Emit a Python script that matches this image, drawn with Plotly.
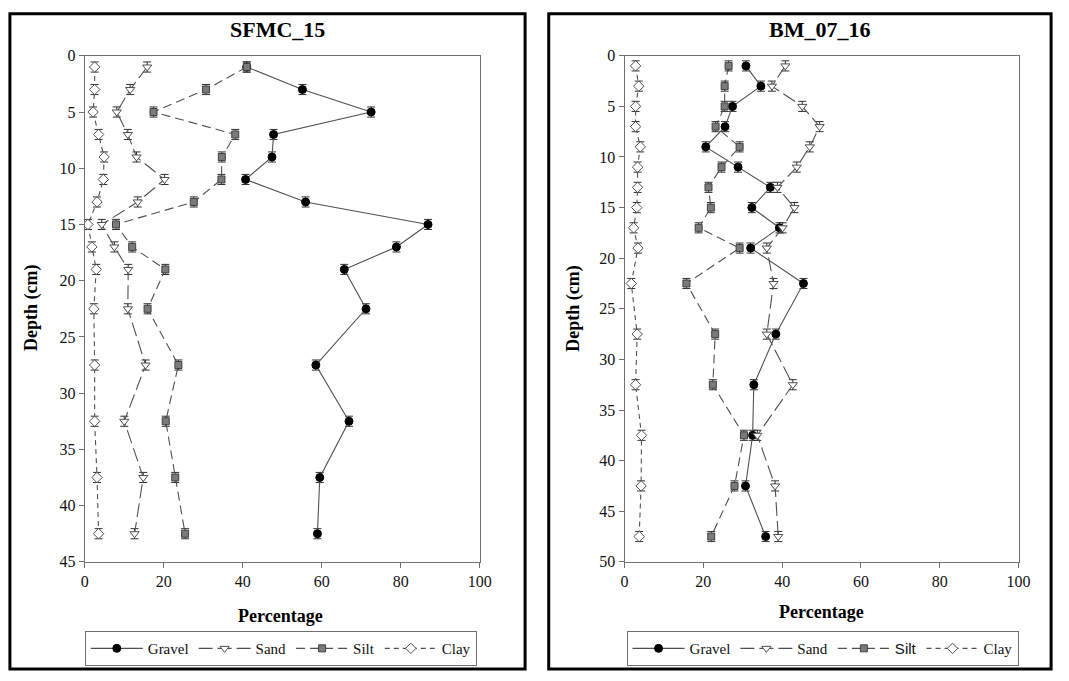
import plotly.graph_objects as go

# ---------------- Data ----------------
depth_sfmc = [1, 3, 5, 7, 9, 11, 13, 15, 17, 19, 22.5, 27.5, 32.5, 37.5, 42.5]
gravel_sfmc = [41.0, 55.1, 72.5, 47.8, 47.4, 40.7, 55.9, 86.9, 78.9, 65.7, 71.2, 58.5, 66.9, 59.5, 58.9]
sand_sfmc = [15.8, 11.5, 8.1, 10.9, 13.1, 20.2, 13.4, 4.3, 7.5, 11.0, 10.9, 15.4, 10.0, 14.8, 12.6]
silt_sfmc = [41.0, 30.7, 17.4, 38.1, 34.7, 34.6, 27.6, 7.9, 12.0, 20.4, 15.9, 23.7, 20.5, 22.9, 25.4]
clay_sfmc = [2.5, 2.5, 2.1, 3.5, 4.9, 4.7, 3.1, 0.8, 1.8, 2.9, 2.3, 2.5, 2.5, 3.1, 3.5]

depth_bm = [1, 3, 5, 7, 9, 11, 13, 15, 17, 19, 22.5, 27.5, 32.5, 37.5, 42.5, 47.5]
gravel_bm = [30.8, 34.6, 27.4, 25.5, 20.6, 28.8, 37.0, 32.3, 39.3, 32.0, 45.4, 38.4, 32.8, 32.5, 30.7, 35.8]
sand_bm = [40.8, 37.4, 45.1, 49.5, 47.0, 43.7, 38.8, 43.1, 40.1, 36.1, 37.8, 36.1, 42.7, 33.7, 38.2, 39.0]
silt_bm = [26.4, 25.4, 25.4, 23.1, 29.2, 24.6, 21.3, 21.9, 18.8, 29.2, 15.7, 23.0, 22.4, 30.3, 27.9, 22.0]
clay_bm = [2.8, 3.6, 2.8, 2.8, 4.0, 3.3, 3.3, 3.1, 2.3, 3.4, 1.7, 3.2, 2.8, 4.3, 4.2, 3.7]

err_sfmc = [0.45] * len(depth_sfmc)
err_bm = [0.5] * len(depth_bm)

series_names = ["Gravel", "Sand", "Silt", "Clay"]
legend_labels_bm = ["Gravel", "Sand", "<span style='font-family:Liberation Sans'>Silt</span>", "Clay"]

FONT = "Liberation Serif"
LINE_C = "#505050"

styles = {
    "Gravel": dict(symbol="circle", size=8, fill="#000000", edge="#000000", dash="solid"),
    "Sand": dict(symbol="triangle-down", size=8, fill="#ffffff", edge="#505050", dash="14px,5px"),
    "Silt": dict(symbol="square", size=7, fill="#7a7a7a", edge="#404040", dash="9px,5px"),
    "Clay": dict(symbol="diamond", size=8, fill="#ffffff", edge="#505050", dash="5px,4px"),
}

fig = go.Figure()

panels = [
    ("x", "y", "legend", depth_sfmc, [gravel_sfmc, sand_sfmc, silt_sfmc, clay_sfmc], err_sfmc, series_names),
    ("x2", "y2", "legend2", depth_bm, [gravel_bm, sand_bm, silt_bm, clay_bm], err_bm, legend_labels_bm),
]

for xa, ya, lg, depth, vals, err, labels in panels:
    for name, label, v in zip(series_names, labels, vals):
        s = styles[name]
        fig.add_trace(go.Scatter(
            x=v, y=depth, xaxis=xa, yaxis=ya, legend=lg, name=label,
            mode="lines+markers",
            line=dict(color=LINE_C, width=1.1, dash=s["dash"]),
            marker=dict(symbol=s["symbol"], size=s["size"], color=s["fill"],
                        line=dict(color=s["edge"], width=1)),
            error_y=dict(type="data", array=err, visible=True, color="#303030",
                         thickness=1, width=4),
        ))

W, H = 1069, 681


def px_x(p):
    return p / W


def px_y(p):
    return 1 - p / H


axis_common = dict(
    showline=True, linecolor="#707070", linewidth=1, mirror=True,
    ticks="outside", ticklen=5, tickcolor="#707070", tickwidth=1,
    showgrid=False, zeroline=False,
    tickfont=dict(family=FONT, size=16, color="#111111"),
)

legend_common = dict(orientation="h", xanchor="center", yanchor="middle",
                     bordercolor="#707070", borderwidth=1, itemwidth=52,
                     font=dict(family=FONT, size=15, color="#111111"), bgcolor="white")

fig.update_layout(
    width=W, height=H,
    margin=dict(l=0, r=0, t=0, b=0),
    font=dict(family=FONT, size=15, color="#111111"),
    paper_bgcolor="white", plot_bgcolor="white",
    showlegend=True,
    xaxis=dict(domain=[px_x(82), px_x(483)], range=[0, 100], dtick=20, anchor="y", **axis_common),
    yaxis=dict(domain=[px_y(568), px_y(49)], range=[45, 0], dtick=5, anchor="x", **axis_common),
    xaxis2=dict(domain=[px_x(630), px_x(1030)], range=[0, 100], dtick=20, anchor="y2", **axis_common),
    yaxis2=dict(domain=[px_y(568), px_y(49)], range=[50, 0], dtick=5, anchor="x2", **axis_common),
    legend=dict(x=px_x(281), y=px_y(657), **legend_common),
    legend2=dict(x=px_x(831), y=px_y(657), **legend_common),
)

# Panel frames
for x0, x1 in [(6, 529), (553, 1063)]:
    fig.add_shape(type="rect", xref="paper", yref="paper",
                  x0=px_x(x0), x1=px_x(x1), y0=px_y(678), y1=px_y(6),
                  line=dict(color="black", width=3), fillcolor="rgba(0,0,0,0)", layer="above")

# Titles and axis labels
ann = []
for title, cx, ylab_x in [("SFMC_15", 278, 28), ("BM_07_16", 828, 578)]:
    ann.append(dict(text="<b>%s</b>" % title, x=px_x(cx), y=px_y(22), xref="paper", yref="paper",
                    showarrow=False, font=dict(family=FONT, size=22, color="black"),
                    xanchor="center", yanchor="middle"))
    ann.append(dict(text="<b>Depth (cm)</b>", x=px_x(ylab_x), y=px_y(308), xref="paper", yref="paper",
                    showarrow=False, textangle=-90, font=dict(family=FONT, size=18, color="black"),
                    xanchor="center", yanchor="middle"))
ann.append(dict(text="<b>Percentage</b>", x=px_x(281), y=px_y(624), xref="paper", yref="paper",
                showarrow=False, font=dict(family=FONT, size=18, color="black"),
                xanchor="center", yanchor="middle"))
ann.append(dict(text="<b>Percentage</b>", x=px_x(830), y=px_y(619), xref="paper", yref="paper",
                showarrow=False, font=dict(family=FONT, size=18, color="black"),
                xanchor="center", yanchor="middle"))
fig.update_layout(annotations=ann)

fig.write_html("out.html")
